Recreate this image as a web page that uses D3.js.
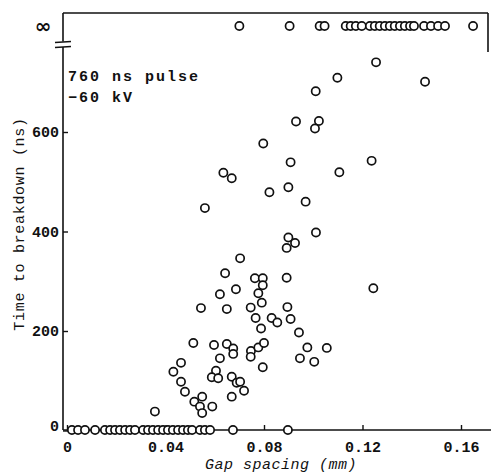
<!DOCTYPE html>
<html>
<head>
<meta charset="utf-8">
<script src="https://cdn.jsdelivr.net/npm/d3@7"></script>
<style>
  body { margin: 0; background: #fff; }
  text { font-family: "Liberation Mono", "DejaVu Sans Mono", monospace; fill: #111; }
</style>
</head>
<body>
<div id="chart"></div>
<script>
// gap spacing (mm) and time to breakdown (ns) for the finite points
const gapFinite = [
  0.1255, 0.1098, 0.1454, 0.1010, 0.0930, 0.1023, 0.1007, 0.0797, 0.0908, 0.1237,
  0.0635, 0.0669, 0.1106, 0.0822, 0.0899, 0.0969, 0.0560, 0.1011, 0.0899, 0.0926,
  0.0892, 0.0703, 0.0642, 0.0763, 0.0795, 0.0892, 0.0795, 0.1244, 0.0686, 0.0621,
  0.0777, 0.0791, 0.0544, 0.0649, 0.0746, 0.0895, 0.0766, 0.0831, 0.0854, 0.0908,
  0.0788, 0.0942, 0.0513, 0.0597, 0.0649, 0.0675, 0.0675, 0.0747, 0.0777, 0.0800,
  0.0976, 0.1055, 0.0746, 0.0946, 0.0621, 0.1004, 0.0463, 0.0432, 0.0795, 0.0605,
  0.0588, 0.0614, 0.0669, 0.0689, 0.0703, 0.0719, 0.0463, 0.0479, 0.0669, 0.0549,
  0.0517, 0.0540, 0.0590, 0.0549, 0.0357
];
const timeFinite = [
  740, 709, 701, 682, 621, 622, 607, 577, 539, 542,
  518, 507, 519, 479, 489, 460, 447, 398, 388, 377,
  367, 346, 316, 306, 306, 307, 292, 286, 284, 274,
  276, 257, 246, 244, 247, 248, 226, 226, 217, 224,
  205, 197, 176, 172, 174, 165, 154, 160, 167, 176,
  167, 166, 148, 145, 145, 138, 136, 118, 127, 120,
  107, 105, 108, 96, 98, 80, 98, 78, 68, 68,
  58, 48, 48, 35, 38
];
// gaps that broke down at once (0 ns)
const gapZero = [
  0.0020, 0.0045, 0.0073, 0.0114, 0.0154, 0.0175, 0.0195, 0.0215, 0.0236, 0.0256,
  0.0276, 0.0309, 0.0329, 0.0349, 0.0370, 0.0390, 0.0410, 0.0430, 0.0451, 0.0471,
  0.0491, 0.0508, 0.0540, 0.0560, 0.0581, 0.0674, 0.0897
];
// gaps that never broke down (plotted at infinity)
const gapInfinite = [
  0.0700, 0.0904, 0.1026, 0.1046, 0.1132, 0.1152, 0.1173, 0.1197, 0.1230, 0.1250,
  0.1270, 0.1291, 0.1311, 0.1331, 0.1352, 0.1372, 0.1393, 0.1409, 0.1450, 0.1478,
  0.1507, 0.1535, 0.1649
];
const xTicks = [0, 0.04, 0.08, 0.12, 0.16];
const xTickLabels = ["0", "0.04", "0.08", "0.12", "0.16"];
const yTicks = [0, 200, 400, 600];
const legendLines = ["760 ns pulse", "\u221260 kV"];

let width = 491,
    height = 475;

let frameLeft = 63,
    frameTop = 13,
    frameRight = 488,
    axisY = 430,
    infY = 26;

let x = d3.scaleLinear().domain([0, 0.16]).range([67, 461]);
let y = d3.scaleLinear().domain([0, 600]).range([430.5, 132]);

let svg = d3.select('#chart').append('svg')
  .attr('width', width)
  .attr('height', height)
  .style('display', 'block');

svg.append('rect').attr('width', width).attr('height', height).attr('fill', '#fff');

let frame = svg.append('g')
  .attr('fill', 'none')
  .attr('stroke', '#111')
  .attr('stroke-width', 1.6);

// left axis, broken below the infinity row
frame.append('line').attr('x1', frameLeft).attr('x2', frameLeft).attr('y1', axisY).attr('y2', 47);
frame.append('line').attr('x1', frameLeft).attr('x2', frameLeft).attr('y1', 41.5).attr('y2', frameTop);
frame.append('line').attr('x1', 55).attr('x2', 71).attr('y1', 42.5).attr('y2', 41.5);
frame.append('line').attr('x1', 55).attr('x2', 71).attr('y1', 47.5).attr('y2', 46.5);
// top and the visible part of the right side
frame.append('line').attr('x1', frameLeft).attr('x2', frameRight).attr('y1', frameTop).attr('y2', frameTop);
frame.append('line').attr('x1', frameRight).attr('x2', frameRight).attr('y1', frameTop).attr('y2', 52);
// bottom axis line
frame.append('line').attr('x1', frameLeft).attr('x2', width).attr('y1', axisY).attr('y2', axisY);

let xAxis = d3.axisBottom(x)
  .tickValues(xTicks)
  .tickFormat((d, i) => xTickLabels[i])
  .tickSizeInner(-5)
  .tickSizeOuter(0)
  .tickPadding(11);

let gx = svg.append('g')
  .attr('transform', 'translate(0,' + axisY + ')')
  .call(xAxis);
gx.select('.domain').remove();
gx.selectAll('.tick line').attr('stroke', '#111').attr('stroke-width', 1.4);
gx.selectAll('.tick text')
  .style('font-size', '15px')
  .style('font-weight', 'bold')
  .attr('fill', '#111');

let yAxis = d3.axisLeft(y)
  .tickValues(yTicks)
  .tickSizeInner(-5)
  .tickSizeOuter(0)
  .tickPadding(4);

let gy = svg.append('g')
  .attr('transform', 'translate(' + frameLeft + ',0)')
  .call(yAxis);
gy.select('.domain').remove();
gy.selectAll('.tick line').attr('stroke', '#111').attr('stroke-width', 1.4);
gy.selectAll('.tick text')
  .style('font-size', '15px')
  .style('font-weight', 'bold')
  .attr('fill', '#111')
  .attr('y', d => d === 0 ? -5 : 0);

svg.append('text')
  .attr('x', 43)
  .attr('y', infY)
  .attr('dy', '0.35em')
  .attr('text-anchor', 'middle')
  .style('font-family', '"DejaVu Sans", sans-serif')
  .style('font-size', '20px')
  .style('font-weight', 'bold')
  .text('\u221e');

svg.append('text')
  .attr('transform', 'translate(24,224) rotate(-90)')
  .attr('text-anchor', 'middle')
  .style('font-size', '15px')
  .style('letter-spacing', '0.7px')
  .text('Time to breakdown (ns)');

svg.append('text')
  .attr('x', 281)
  .attr('y', 469)
  .attr('text-anchor', 'middle')
  .style('font-size', '15px')
  .style('font-style', 'italic')
  .style('letter-spacing', '0.5px')
  .text('Gap spacing (mm)');

svg.selectAll('.legend')
  .data(legendLines)
  .enter().append('text')
    .attr('class', 'legend')
    .attr('x', 68)
    .attr('y', (d, i) => 81 + i * 21)
    .style('font-size', '15px')
    .style('font-weight', 'bold')
    .style('letter-spacing', '2px')
    .text(d => d);

let points = gapFinite.map((g, i) => ({ gap: g, cy: y(timeFinite[i]) }))
  .concat(gapZero.map(g => ({ gap: g, cy: axisY })))
  .concat(gapInfinite.map(g => ({ gap: g, cy: infY })));

svg.append('g').selectAll('circle')
  .data(points)
  .enter().append('circle')
    .attr('cx', d => x(d.gap))
    .attr('cy', d => d.cy)
    .attr('r', 4.1)
    .style('fill', '#fff')
    .style('stroke', '#111')
    .style('stroke-width', 1.7);
</script>
</body>
</html>
